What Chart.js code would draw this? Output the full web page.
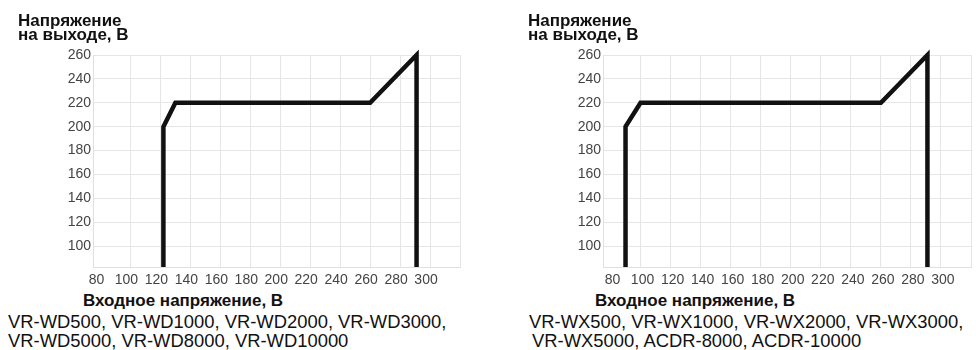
<!DOCTYPE html>
<html>
<head>
<meta charset="utf-8">
<script src="https://cdn.jsdelivr.net/npm/chart.js@4"></script>
<style>
  body { margin: 0; background: #fff; width: 976px; height: 350px; overflow: hidden; position: relative; font-family: "Liberation Sans", Arial, sans-serif; color: #111; }
  canvas { position: absolute; top: 0; }
  .t { position: absolute; white-space: nowrap; }
  .ytitle { font-weight: bold; font-size: 17px; line-height: 14.3px; top: 13.5px; }
  .xtitle { font-weight: bold; font-size: 17px; line-height: 20px; top: 291px; }
  .cap { font-size: 18.4px; line-height: 19px; }
</style>
</head>
<body>
<canvas id="chartWD" style="left:0px" width="465" height="290"></canvas>
<canvas id="chartWX" style="left:510px" width="466" height="290"></canvas>

<div class="t ytitle" style="left:18px">Напряжение<br>на выходе, В</div>
<div class="t ytitle" style="left:528px">Напряжение<br>на выходе, В</div>
<div class="t xtitle" style="left:83px">Входное напряжение, В</div>
<div class="t xtitle" style="left:595px">Входное напряжение, В</div>
<div class="t cap" style="left:8px; top:312px">VR-WD500, VR-WD1000, VR-WD2000, VR-WD3000,</div>
<div class="t cap" style="left:8px; top:331px">VR-WD5000, VR-WD8000, VR-WD10000</div>
<div class="t cap" style="left:529px; top:312px">VR-WX500, VR-WX1000, VR-WX2000, VR-WX3000,</div>
<div class="t cap" style="left:532px; top:331px">VR-WX5000, ACDR-8000, ACDR-10000</div>

<script>
// входное напряжение -> выходное напряжение
const wdInput = [122, 122, 130, 260, 291, 291];
const wdOutput = [82.5, 200, 220, 220, 260, 82.5];

const wxInput = [90, 90, 100, 260, 291, 291];
const wxOutput = [82.5, 200, 220, 220, 260, 82.5];

const xMin = 75, xMax = 320, xStep = 20;
const yMin = 82.5, yMax = 260, yStep = 20;

function toPoints(xs, ys) {
  return xs.map((x, i) => ({ x: x, y: ys[i] }));
}

function makeChart(id, xs, ys, labelOffset) {
  return new Chart(document.getElementById(id), {
    type: "line",
    data: {
      datasets: [{
        data: toPoints(xs, ys),
        borderColor: "#111",
        borderWidth: 4.5,
        borderJoinStyle: "miter",
        pointRadius: 0,
        tension: 0,
        clip: false,
      }],
    },
    options: {
      responsive: false,
      animation: false,
      layout: { padding: { top: 55, right: 2, left: 0, bottom: 0 } },
      plugins: { legend: { display: false }, tooltip: { enabled: false } },
      scales: {
        x: {
          type: "linear",
          min: xMin,
          max: xMax,
          afterFit: (s) => { s.height = 23; },
          grid: {
            drawTicks: false,
            color: (c) => (c.tick && c.tick.value === 80 ? "rgba(0,0,0,0)" : "#e6e6e6"),
          },
          border: { color: "#e0e0e0" },
          ticks: {
            stepSize: xStep,
            includeBounds: false,
            maxRotation: 0,
            autoSkip: false,
            padding: 5,
            labelOffset: labelOffset,
            color: "#444",
            font: { family: "Liberation Sans", size: 14 },
            callback: (v) => (v <= 300 ? v : ""),
          },
        },
        y: {
          min: yMin,
          max: yMax,
          afterFit: (s) => { s.width = 93; },
          grid: { drawTicks: false, color: "#e6e6e6" },
          border: { color: "#e0e0e0" },
          ticks: {
            stepSize: yStep,
            includeBounds: false,
            padding: 2,
            color: "#444",
            font: { family: "Liberation Sans", size: 14 },
          },
        },
      },
    },
  });
}

makeChart("chartWD", wdInput, wdOutput, -4);
makeChart("chartWX", wxInput, wxOutput, 2);
</script>
</body>
</html>
